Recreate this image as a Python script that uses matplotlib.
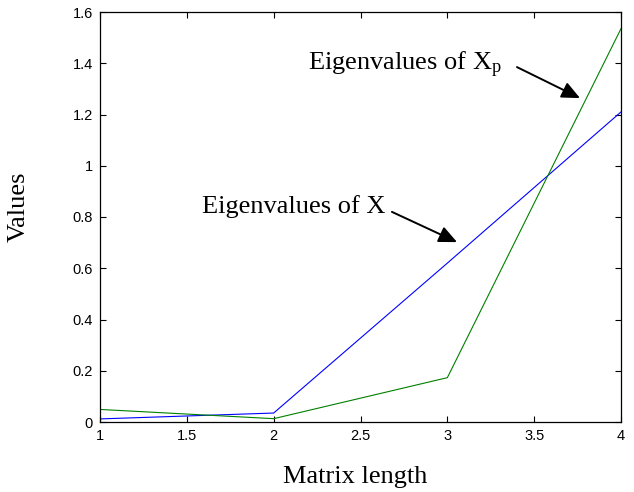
import matplotlib
matplotlib.use("Agg")
import matplotlib.pyplot as plt

plt.rcParams["mathtext.fontset"] = "custom"
plt.rcParams["mathtext.rm"] = "Liberation Serif"
plt.rcParams["mathtext.it"] = "Liberation Serif:italic"

x = [1, 2, 3, 4]
eig_x = [0.012, 0.035, 0.62, 1.21]
eig_xp = [0.049, 0.013, 0.173, 1.535]
xticks = [1, 1.5, 2, 2.5, 3, 3.5, 4]
xticklabels = ["1", "1.5", "2", "2.5", "3", "3.5", "4"]
yticks = [0, 0.2, 0.4, 0.6, 0.8, 1.0, 1.2, 1.4, 1.6]
yticklabels = ["0", "0.2", "0.4", "0.6", "0.8", "1", "1.2", "1.4", "1.6"]

fig = plt.figure(figsize=(6.34, 4.92), dpi=100)
ax = fig.add_axes([100/634, 1-422/492, 521/634, 410/492])

ax.plot(x, eig_x, color=(0, 0, 1), lw=0.8)
ax.plot(x, eig_xp, color=(0, 0.5, 0), lw=0.8)

ax.set_xlim(1, 4)
ax.set_ylim(0, 1.6)
ax.set_xticks(xticks)
ax.set_xticklabels(xticklabels)
ax.set_yticks(yticks)
ax.set_yticklabels(yticklabels)
ax.tick_params(direction="in", length=4, width=0.8, top=True, right=True,
               labelsize=10.5, pad=5)
for lab in ax.get_xticklabels() + ax.get_yticklabels():
    lab.set_family("Liberation Sans")
for s in ax.spines.values():
    s.set_linewidth(0.9)

ax.set_xlabel("Matrix length", family="Liberation Serif", fontsize=19)
ax.set_ylabel("Values", family="Liberation Serif", fontsize=19)
ax.xaxis.set_label_coords(0.49, -0.107)
ax.yaxis.set_label_coords(-0.135, 0.525)

arrow = dict(arrowstyle="-|>,head_length=1.1,head_width=0.5", color="black",
             lw=1.4, shrinkA=0, shrinkB=0)
ax.annotate("", xy=(3.764, 1.264), xytext=(3.401, 1.385), arrowprops=arrow)
ax.annotate("", xy=(3.056, 0.702), xytext=(2.681, 0.820), arrowprops=arrow)
ax.text(3.315, 1.374, r"Eigenvalues of X$_{\mathrm{p}}$", family="Liberation Serif",
        fontsize=19, ha="right", va="baseline")
ax.text(2.641, 0.816, "Eigenvalues of X", family="Liberation Serif",
        fontsize=19, ha="right", va="baseline")

fig.savefig("out.png", dpi=100)
